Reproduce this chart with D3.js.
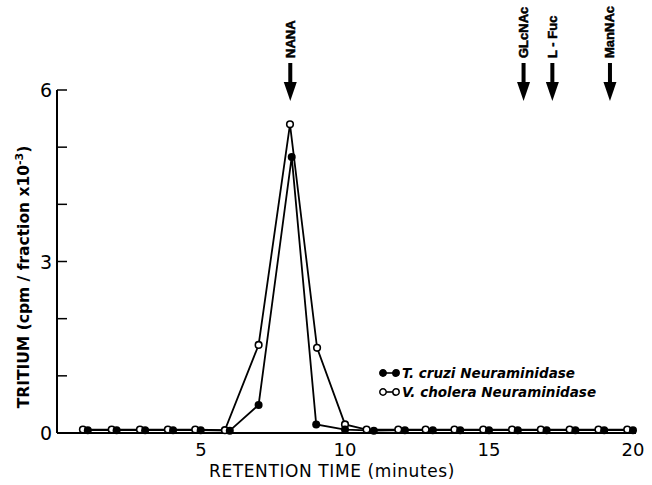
<!DOCTYPE html>
<html>
<head>
<meta charset="utf-8">
<script src="https://cdn.jsdelivr.net/npm/d3@7"></script>
<style>
  body { margin: 0; background: #fff; }
  text { font-family: "DejaVu Sans", sans-serif; fill: #000; }
</style>
</head>
<body>
<div id="chart"></div>
<script>
// Data
var cruziX = [1.07, 2.07, 3.06, 4.03, 4.99, 6.0, 7.0, 8.15, 9.0, 10.0, 11.0, 12.08, 13.05, 14.0, 15.0, 16.0, 17.0, 18.0, 19.0, 20.0];
var cruziY = [0.05, 0.05, 0.05, 0.05, 0.05, 0.04, 0.49, 4.83, 0.15, 0.06, 0.04, 0.05, 0.05, 0.05, 0.05, 0.05, 0.05, 0.05, 0.05, 0.05];
var choleraX = [0.9, 1.9, 2.88, 3.85, 4.8, 5.83, 7.0, 8.09, 9.03, 10.0, 10.75, 11.85, 12.8, 13.8, 14.8, 15.8, 16.8, 17.8, 18.8, 19.8];
var choleraY = [0.06, 0.06, 0.06, 0.06, 0.06, 0.05, 1.54, 5.40, 1.49, 0.15, 0.06, 0.06, 0.06, 0.06, 0.06, 0.06, 0.06, 0.06, 0.06, 0.06];

var xTicks = [5, 10, 15, 20];
var yTicks = [0, 3, 6];
var yMinor = [1, 2, 4, 5];

var markers = [
    { name: "NANA", x: 8.1 },
    { name: "GLcNAc", x: 16.2 },
    { name: "L - Fuc", x: 17.2 },
    { name: "ManNAc", x: 19.2 }
];

var svg = d3.select("#chart").append("svg")
    .attr("width", 652)
    .attr("height", 485);

var x = d3.scaleLinear().domain([0, 20]).range([57, 633]);
var y = d3.scaleLinear().domain([0, 6]).range([433, 90]);

// Axes lines
svg.append("line")
    .attr("x1", x(0)).attr("x2", x(0))
    .attr("y1", y(0)).attr("y2", y(6))
    .attr("stroke", "#000").attr("stroke-width", 2);
svg.append("line")
    .attr("x1", x(0)).attr("x2", x(20) + 3)
    .attr("y1", y(0)).attr("y2", y(0))
    .attr("stroke", "#000").attr("stroke-width", 2);

// y ticks (inward)
svg.selectAll("line.ytick")
    .data(yTicks.concat(yMinor).filter(function (d) { return d > 0; }))
    .enter()
    .append("line")
    .attr("x1", x(0)).attr("x2", x(0) + 10)
    .attr("y1", function (d) { return y(d); })
    .attr("y2", function (d) { return y(d); })
    .attr("stroke", "#000").attr("stroke-width", 1.5);

svg.selectAll("text.ylab")
    .data(yTicks)
    .enter()
    .append("text")
    .attr("x", x(0) - 5)
    .attr("y", function (d) { return y(d) + 7; })
    .attr("text-anchor", "end")
    .attr("font-size", 19)
    .text(function (d) { return d; });

svg.selectAll("text.xlab")
    .data(xTicks)
    .enter()
    .append("text")
    .attr("x", function (d) { return x(d); })
    .attr("y", 456)
    .attr("text-anchor", "middle")
    .attr("font-size", 18)
    .text(function (d) { return d; });

// Axis titles
svg.append("text")
    .attr("x", 332)
    .attr("y", 477)
    .attr("text-anchor", "middle")
    .attr("font-size", 17)
    .attr("letter-spacing", 0.6)
    .text("RETENTION TIME (minutes)");

var yt = svg.append("text")
    .attr("transform", "translate(29,277) rotate(-90)")
    .attr("text-anchor", "middle")
    .attr("font-size", 15.5)
    .attr("font-weight", "bold");
yt.append("tspan").text("TRITIUM (cpm / fraction x10");
yt.append("tspan").attr("dy", -6).attr("font-size", 11).text("-3");
yt.append("tspan").attr("dy", 6).text(")");

// Series lines
var line = d3.line()
    .x(function (d) { return x(d[0]); })
    .y(function (d) { return y(d[1]); });

var cruzi = d3.zip(cruziX, cruziY);
var cholera = d3.zip(choleraX, choleraY);

svg.append("path")
    .attr("d", line(cholera))
    .attr("fill", "none").attr("stroke", "#000").attr("stroke-width", 1.8);
svg.append("path")
    .attr("d", line(cruzi))
    .attr("fill", "none").attr("stroke", "#000").attr("stroke-width", 1.8);

svg.selectAll("circle.open")
    .data(cholera)
    .enter()
    .append("circle")
    .attr("cx", function (d) { return x(d[0]); })
    .attr("cy", function (d) { return y(d[1]); })
    .attr("r", 3.3)
    .attr("fill", "#fff").attr("stroke", "#000").attr("stroke-width", 1.6);

svg.selectAll("circle.filled")
    .data(cruzi)
    .enter()
    .append("circle")
    .attr("cx", function (d) { return x(d[0]); })
    .attr("cy", function (d) { return y(d[1]); })
    .attr("r", 4)
    .attr("fill", "#000");

// Arrow markers
var arrows = svg.selectAll("g.arrow")
    .data(markers)
    .enter()
    .append("g")
    .attr("transform", function (d) { return "translate(" + x(d.x) + ",0)"; });

arrows.append("rect")
    .attr("x", -2).attr("y", 63)
    .attr("width", 4).attr("height", 22)
    .attr("fill", "#000");
arrows.append("path")
    .attr("d", "M-6.5,82 L6.5,82 L0,101 Z")
    .attr("fill", "#000");
arrows.append("text")
    .attr("transform", "translate(4.5,58) rotate(-90)")
    .attr("font-size", 13)
    .attr("font-weight", "bold")
    .attr("stroke", "#000")
    .attr("stroke-width", 0.5)
    .style("font-family", "'Liberation Sans', Arial, sans-serif")
    .text(function (d) { return d.name; });

// Legend
var legend = [
    { name: "T. cruzi", rest: " Neuraminidase", filled: true, y: 373 },
    { name: "V. cholera", rest: " Neuraminidase", filled: false, y: 392 }
];
var lg = svg.selectAll("g.legend")
    .data(legend)
    .enter()
    .append("g")
    .attr("transform", function (d) { return "translate(383," + d.y + ")"; });
lg.append("line")
    .attr("x1", 0).attr("x2", 13)
    .attr("stroke", "#000").attr("stroke-width", 1.6);
lg.selectAll("circle")
    .data(function (d) { return [d, d]; })
    .enter()
    .append("circle")
    .attr("cx", function (d, i) { return i * 13; })
    .attr("r", 3.2)
    .attr("fill", function (d) { return d.filled ? "#000" : "#fff"; })
    .attr("stroke", "#000").attr("stroke-width", 1.5);
lg.append("text")
    .attr("x", 19).attr("y", 5)
    .attr("font-size", 13.5)
    .attr("font-style", "italic")
    .attr("font-weight", "bold")
    .text(function (d) { return d.name + d.rest; });
</script>
</body>
</html>
